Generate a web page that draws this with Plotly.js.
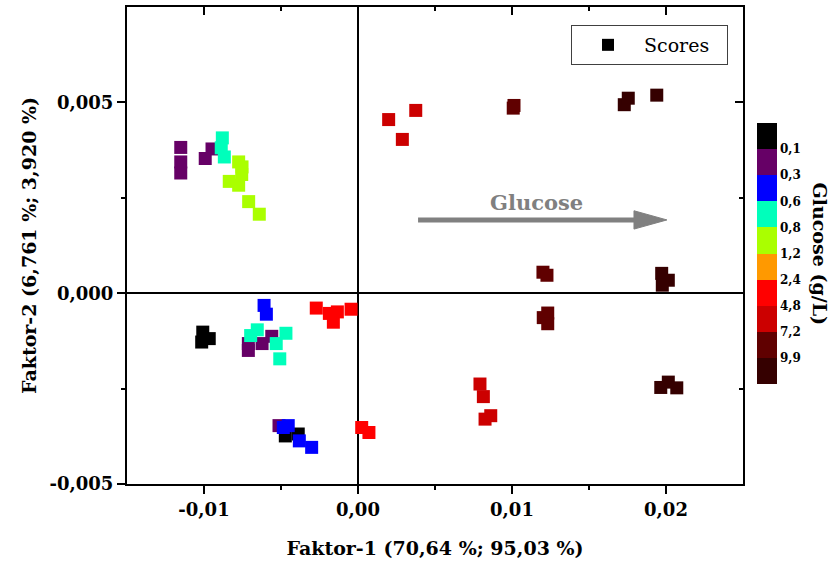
<!DOCTYPE html>
<html>
<head>
<meta charset="utf-8">
<script src="https://cdn.plot.ly/plotly-3.0.1.min.js"></script>
<style>
  html, body { margin: 0; padding: 0; background: #ffffff; }
  #chart { width: 840px; height: 565px; }
</style>
</head>
<body>
<div id="chart"></div>
<script>
// PCA scores (Faktor-1 / Faktor-2), one pair of arrays per glucose band
const band0X   = [-0.01008, -0.00966, -0.01015, -0.00472, -0.00388];
const band0Y   = [-0.00102, -0.00119, -0.00128, -0.00374, -0.00369];
const band01X  = [-0.01151, -0.01151, -0.01151, -0.00948, -0.00992, -0.00712, -0.00712, -0.00623, -0.00560, -0.00513];
const band01Y  = [ 0.00382,  0.00344,  0.00315,  0.00378,  0.00353, -0.00150, -0.00132, -0.00132, -0.00113, -0.00347];
const band03X  = [-0.00610, -0.00595, -0.00485, -0.00453, -0.00381, -0.00301];
const band03Y  = [-0.00032, -0.00055, -0.00352, -0.00347, -0.00387, -0.00404];
const band06X  = [-0.00881, -0.00888, -0.00868, -0.00654, -0.00697, -0.00468, -0.00531, -0.00508];
const band06Y  = [ 0.00407,  0.00381,  0.00357, -0.00096, -0.00111, -0.00105, -0.00132, -0.00172];
const band08X  = [-0.00775, -0.00753, -0.00755, -0.00836, -0.00775, -0.00710, -0.00641];
const band08Y  = [ 0.00344,  0.00331,  0.00311,  0.00293,  0.00283,  0.00240,  0.00207];
const band12X  = [];
const band12Y  = [];
const band24X  = [-0.00271, -0.00186, -0.00134, -0.00160, -0.00045, 0.00024, 0.00071];
const band24Y  = [-0.00039, -0.00053, -0.00049, -0.00076, -0.00042, -0.00352, -0.00365];
const band48X  = [0.00199, 0.00375, 0.00288, 0.00792, 0.00814, 0.00825, 0.00862];
const band48Y  = [0.00455, 0.00479, 0.00403, -0.00238, -0.00271, -0.00330, -0.00321];
const band72X  = [0.01008, 0.01013, 0.01201, 0.01227, 0.01232, 0.01203, 0.01232];
const band72Y  = [0.00485, 0.00492, 0.00055, 0.00047, -0.00052, -0.00064, -0.00080];
const band99X  = [0.01729, 0.01755, 0.01940, 0.01972, 0.02015, 0.01976, 0.01966, 0.02015, 0.02070];
const band99Y  = [0.00494, 0.00511, 0.00519, 0.00052, 0.00034, 0.00021, -0.00247, -0.00233, -0.00248];

// colour bands of the glucose scale (lowest first) and the boundary labels between them
const bandColors = ['#000000', '#660066', '#0000ff', '#00ffbb', '#aaff00',
                    '#ff9900', '#ff0000', '#cc0000', '#600000', '#350000'];
const boundaryLabels = ['0,1', '0,3', '0,6', '0,8', '1,2', '2,4', '4,8', '7,2', '9,9'];

// axis ticks
const xTickVals = [-0.01, 0, 0.01, 0.02];
const xTickText = ['-0,01', '0,00', '0,01', '0,02'];
const xMinorVals = [-0.005, 0.005, 0.015];
const yTickVals = [-0.005, 0, 0.005];
const yTickText = ['-0,005', '0,000', '0,005'];
const yMinorVals = [-0.0025, 0.0025];

const bandsX = [band0X, band01X, band03X, band06X, band08X, band12X, band24X, band48X, band72X, band99X];
const bandsY = [band0Y, band01Y, band03Y, band06Y, band08Y, band12Y, band24Y, band48Y, band72Y, band99Y];

// The colour bar runs from the lowest band at the top to the highest at the bottom,
// so the colour value counts down: band b sits in block [n-b-1, n-b].
const nBands = bandColors.length;
const allX = [], allY = [], allC = [];
bandsX.forEach((xs, b) => {
  xs.forEach((x, i) => { allX.push(x); allY.push(bandsY[b][i]); allC.push(nBands - b - 0.5); });
});

const discreteScale = [];
bandColors.slice().reverse().forEach((c, i) => {
  discreteScale.push([i / nBands, c]);
  discreteScale.push([(i + 1) / nBands, c]);
});

const serif = 'DejaVu Serif';
const boldFont = (size, color) => ({ family: serif, size: size, color: color || '#000000', weight: 'bold' });

const scores = {
  type: 'scatter',
  mode: 'markers',
  name: 'Scores\u00a0\u00a0',
  x: allX,
  y: allY,
  hoverinfo: 'x+y',
  marker: {
    symbol: 'square',
    size: 13,
    color: allC,
    cmin: 0,
    cmax: nBands,
    colorscale: discreteScale,
    line: { width: 0 },
    showscale: true,
    colorbar: {
      x: 1.0227, xanchor: 'left', xpad: 0,
      y: 0.4832, yanchor: 'middle', ypad: 0,
      thickness: 20, thicknessmode: 'pixels',
      len: 261, lenmode: 'pixels',
      outlinewidth: 0,
      tickmode: 'array',
      tickvals: boundaryLabels.map((_, i) => nBands - (i + 1)),
      ticktext: boundaryLabels,
      ticks: '',
      tickfont: boldFont(12)
    }
  }
};

// empty companion trace so the mirrored top/right axes (inward ticks) exist
const frame = { type: 'scatter', x: [], y: [], xaxis: 'x2', yaxis: 'y2', showlegend: false, hoverinfo: 'skip' };

const xRange = [-0.015, 0.025];
const yRange = [-0.005, 0.0075];

const layout = {
  width: 840,
  height: 565,
  paper_bgcolor: '#ffffff',
  plot_bgcolor: '#ffffff',
  margin: { l: 127, r: 97, t: 7, b: 81, autoexpand: false },
  showlegend: true,
  legend: {
    x: 0.7208, y: 0.9623, xanchor: 'left', yanchor: 'top',
    bgcolor: '#ffffff', bordercolor: '#404040', borderwidth: 1,
    font: { family: serif, size: 19, color: '#000000' },
    itemsizing: 'constant',
    itemwidth: 62
  },
  xaxis: {
    range: xRange,
    showgrid: false,
    zeroline: true, zerolinecolor: '#000000', zerolinewidth: 2,
    showline: true, linecolor: '#000000', linewidth: 2, mirror: true,
    tickmode: 'array', tickvals: xTickVals, ticktext: xTickText,
    ticks: 'outside', ticklen: 8, tickwidth: 2, tickcolor: '#000000',
    minor: { tickmode: 'array', tickvals: xMinorVals, ticks: 'outside', ticklen: 4, tickwidth: 2, tickcolor: '#000000', showgrid: false },
    tickfont: boldFont(18),
    title: { text: 'Faktor-1 (70,64 %; 95,03 %)', font: boldFont(19), standoff: 23 }
  },
  yaxis: {
    range: yRange,
    showgrid: false,
    zeroline: true, zerolinecolor: '#000000', zerolinewidth: 2,
    showline: true, linecolor: '#000000', linewidth: 2, mirror: true,
    tickmode: 'array', tickvals: yTickVals, ticktext: yTickText,
    ticks: 'outside', ticklen: 8, tickwidth: 2, tickcolor: '#000000',
    minor: { tickmode: 'array', tickvals: yMinorVals, ticks: 'outside', ticklen: 4, tickwidth: 2, tickcolor: '#000000', showgrid: false },
    tickfont: boldFont(18),
    title: { text: 'Faktor-2 (6,761 %; 3,920 %)', font: boldFont(19), standoff: 8 }
  },
  xaxis2: {
    overlaying: 'x', side: 'top', anchor: 'y', range: xRange,
    showgrid: false, zeroline: false, showline: false, showticklabels: false,
    tickmode: 'array', tickvals: xTickVals,
    ticks: 'inside', ticklen: 8, tickwidth: 2, tickcolor: '#000000',
    minor: { tickmode: 'array', tickvals: xMinorVals, ticks: 'inside', ticklen: 4, tickwidth: 2, tickcolor: '#000000', showgrid: false }
  },
  yaxis2: {
    overlaying: 'y', side: 'right', anchor: 'x', range: yRange,
    showgrid: false, zeroline: false, showline: false, showticklabels: false,
    tickmode: 'array', tickvals: yTickVals,
    ticks: 'inside', ticklen: 8, tickwidth: 2, tickcolor: '#000000',
    minor: { tickmode: 'array', tickvals: yMinorVals, ticks: 'inside', ticklen: 4, tickwidth: 2, tickcolor: '#000000', showgrid: false }
  },
  shapes: [
    // shaft of the "Glucose" trend arrow
    { type: 'line', xref: 'x', yref: 'y', x0: 0.0039, x1: 0.0180, y0: 0.00192, y1: 0.00192,
      line: { color: '#808080', width: 5 } },
    // arrow head
    { type: 'path', xref: 'x', yref: 'y',
      path: 'M 0.01792 0.00216 L 0.02006 0.00192 L 0.01792 0.00168 Z',
      fillcolor: '#808080', line: { color: '#808080', width: 1 } }
  ],
  annotations: [
    { xref: 'x', yref: 'y', x: 0.01156, y: 0.00239, text: 'Glucose', showarrow: false,
      font: boldFont(21, '#808080') },
    { xref: 'paper', yref: 'paper', x: 1.125, y: 0.4832, xanchor: 'center', yanchor: 'middle',
      text: 'Glucose (g/L)', textangle: 90, showarrow: false, font: boldFont(19) }
  ]
};

Plotly.newPlot('chart', [scores, frame], layout, { displayModeBar: false, staticPlot: true });
</script>
</body>
</html>
